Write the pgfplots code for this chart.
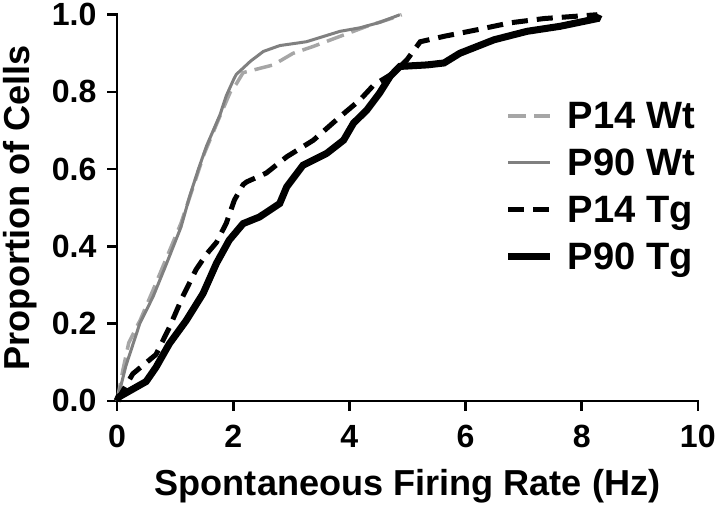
\documentclass[border=0pt]{standalone}
\usepackage{fontspec}
\setmainfont{Liberation Sans}
\usepackage{pgfplots}
\pgfplotsset{compat=1.18}
\definecolor{wtdash}{HTML}{A6A6A6}
\definecolor{wtsolid}{HTML}{808080}
\begin{document}
\begin{tikzpicture}
\begin{axis}[
  scale only axis,
  width=579pt, height=385pt,
  xmin=0, xmax=10, ymin=0, ymax=1,
  axis lines*=left,
  axis line style={line width=2.6pt, line cap=rect},
  xtick={0,2,4,6,8,10},
  ytick={0,0.2,0.4,0.6,0.8,1.0},
  yticklabel style={/pgf/number format/fixed, /pgf/number format/fixed zerofill, /pgf/number format/precision=1, xshift=-7pt},
  /pgf/number format/assume math mode=true,
  tick style={line width=2.6pt, black},
  major tick length=10pt,
  tick align=outside,
  ticklabel style={font=\fontsize{32}{32}\selectfont\bfseries},
  xticklabel style={yshift=-11pt},
  xlabel={Spontaneous Firing Rate (Hz)},
  ylabel={Proportion of Cells},
  label style={font=\fontsize{36}{36}\selectfont\bfseries},
  xlabel style={yshift=-14pt},
  ylabel style={yshift=8pt},
  clip=false,
  legend style={draw=none, fill=none, at={(rel axis cs:0.662,0.785)}, anchor=north west,
    font=\fontsize{38}{38}\selectfont\bfseries, row sep=15pt,
    nodes={font=\fontsize{38}{38}\selectfont\bfseries, inner xsep=14pt}},
  legend cell align=left,
  legend image code/.code={\draw[#1] (0pt,0pt) -- (42pt,0pt);},
]
\addplot[wtdash, line width=3.5pt, dash pattern=on 18pt off 8pt] coordinates {
(0,0)(0.1,0.08)(0.2,0.15)(0.4,0.21)(0.6,0.28)(0.85,0.37)(1.1,0.46)(1.3,0.55)(1.5,0.64)(1.75,0.73)(1.95,0.8)(2.05,0.82)(2.17,0.85)(2.69,0.87)(3.03,0.9)(3.38,0.918)(3.84,0.944)(4.3,0.97)(4.82,0.995)(4.9,1.0)
};
\addlegendentry{P14 Wt}
\addplot[wtsolid, line width=3pt] coordinates {
(0,0)(0.15,0.09)(0.39,0.2)(0.62,0.27)(0.85,0.355)(1.1,0.45)(1.25,0.53)(1.4,0.6)(1.54,0.66)(1.77,0.74)(1.88,0.79)(2.0,0.83)(2.05,0.845)(2.3,0.88)(2.52,0.905)(2.8,0.92)(3.26,0.93)(3.84,0.957)(4.18,0.966)(4.52,0.98)(4.87,1.0)
};
\addlegendentry{P90 Wt}
\addplot[black, line width=5pt, dash pattern=on 16pt off 9pt] coordinates {
(0,0)(0.27,0.07)(0.67,0.12)(0.9,0.19)(1.13,0.27)(1.36,0.34)(1.54,0.38)(1.71,0.41)(1.88,0.46)(2.02,0.52)(2.17,0.56)(2.23,0.567)(2.57,0.59)(2.92,0.632)(3.38,0.675)(3.84,0.736)(4.18,0.779)(4.42,0.818)(4.76,0.849)(4.99,0.883)(5.22,0.93)(5.63,0.944)(6.2,0.961)(6.77,0.979)(7.35,0.99)(8.27,1.0)
};
\addlegendentry{P14 Tg}
\addplot[black, line width=7pt] coordinates {
(0,0)(0.03,0.01)(0.5,0.05)(0.67,0.087)(0.9,0.148)(1.19,0.208)(1.48,0.278)(1.71,0.356)(1.93,0.416)(2.17,0.459)(2.45,0.476)(2.8,0.511)(2.92,0.554)(3.2,0.61)(3.61,0.641)(3.9,0.675)(4.07,0.719)(4.3,0.753)(4.52,0.797)(4.7,0.84)(4.87,0.866)(5.34,0.87)(5.63,0.875)(5.9,0.9)(6.49,0.935)(7.06,0.957)(7.63,0.97)(8.27,0.99)(8.3,1.0)
};
\addlegendentry{P90 Tg}
\end{axis}
\end{tikzpicture}
\end{document}
